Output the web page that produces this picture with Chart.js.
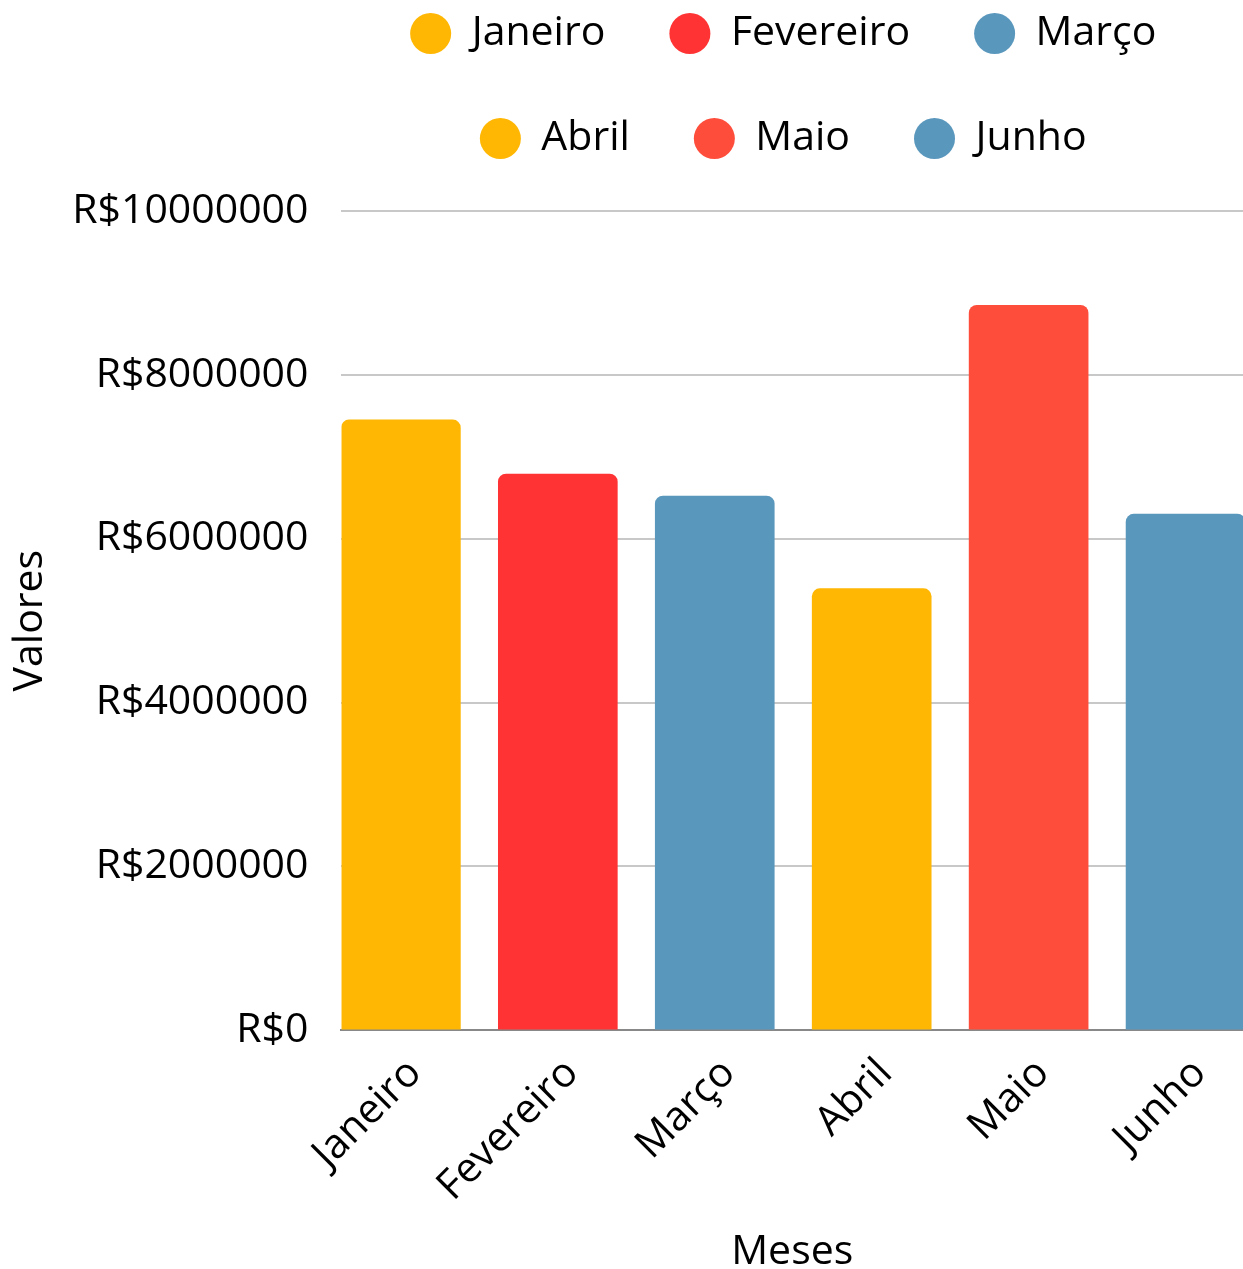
<!DOCTYPE html>
<html lang="pt-BR">
<head>
<meta charset="utf-8">
<title>Valores por mês</title>
<script src="https://cdn.jsdelivr.net/npm/chart.js@4/dist/chart.umd.min.js"></script>
<style>
  html, body { margin: 0; padding: 0; background: #fff; overflow: hidden; }
  #wrap { position: relative; width: 1243px; height: 1269px; }
</style>
</head>
<body>
<div id="wrap"><canvas id="grafico"></canvas></div>
<script>
// dados do gráfico
const meses = ['Janeiro', 'Fevereiro', 'Março', 'Abril', 'Maio', 'Junho'];
const valores = [7450000, 6790000, 6520000, 5390000, 8850000, 6300000];
const cores = ['#FFB703', '#FF3333', '#5A97BD', '#FFB703', '#FF4D3B', '#5A97BD'];
const yMin = 0;
const yMax = 10000000;
const yPasso = 2000000;

Chart.defaults.font.family = '"Open Sans", "Noto Sans", sans-serif';
Chart.defaults.font.size = 41;
Chart.defaults.color = '#000';

// legenda centrada sobre a área do gráfico, 3 itens por linha
const legendaNaArea = {
  id: 'legendaNaArea',
  afterLayout(chart) {
    const lg = chart.legend;
    const ca = chart.chartArea;
    const centro = (ca.left + ca.right) / 2 - 9;
    lg.maxWidth = 960;
    lg.fit();
    lg.left = centro - 480;
    lg.right = centro + 480;
    lg.top = -51;
    lg.bottom = lg.top + lg.height;
    lg.adjustHitBoxes();
  }
};

// um dataset por mês, cada um com um só ponto
const datasets = meses.map((mes, i) => ({
  label: mes,
  data: [{ x: i, y: valores[i] }],
  backgroundColor: cores[i],
  borderRadius: 8,
  borderSkipped: 'start'
}));

new Chart(document.getElementById('grafico'), {
  type: 'bar',
  data: { datasets: datasets },
  plugins: [legendaNaArea],
  options: {
    responsive: true,
    maintainAspectRatio: false,
    animation: false,
    grouped: false,
    barThickness: 119,
    layout: { padding: { left: 0, right: 0, top: -9, bottom: 0 } },
    plugins: {
      tooltip: { enabled: false },
      legend: {
        position: 'top',
        labels: {
          usePointStyle: true,
          pointStyle: 'circle',
          boxHeight: 29,
          pointStyleWidth: 41,
          padding: 64,
          font: { size: 41 }
        }
      }
    },
    scales: {
      x: {
        type: 'linear',
        min: -0.3785,
        max: 5.366,
        offset: false,
        grid: { display: false },
        border: { display: true, color: '#888', width: 2 },
        afterBuildTicks: scale => {
          scale.ticks = meses.map((m, i) => ({ value: i }));
        },
        afterFit: scale => {
          scale.paddingLeft = 0;
          scale.paddingRight = 0;
        },
        ticks: {
          autoSkip: false,
          minRotation: 45,
          maxRotation: 45,
          padding: 11,
          labelOffset: 14,
          callback: v => meses[v]
        },
        title: { display: true, text: 'Meses', padding: { top: 6, bottom: -8 } }
      },
      y: {
        min: yMin,
        max: yMax,
        ticks: {
          stepSize: yPasso,
          padding: 33,
          callback: v => 'R$' + v
        },
        grid: { color: '#c8c8c8', lineWidth: 2, drawTicks: false },
        border: { display: false },
        title: { display: true, text: 'Valores', padding: { top: 6, bottom: -16 } }
      }
    }
  }
});
</script>
</body>
</html>
